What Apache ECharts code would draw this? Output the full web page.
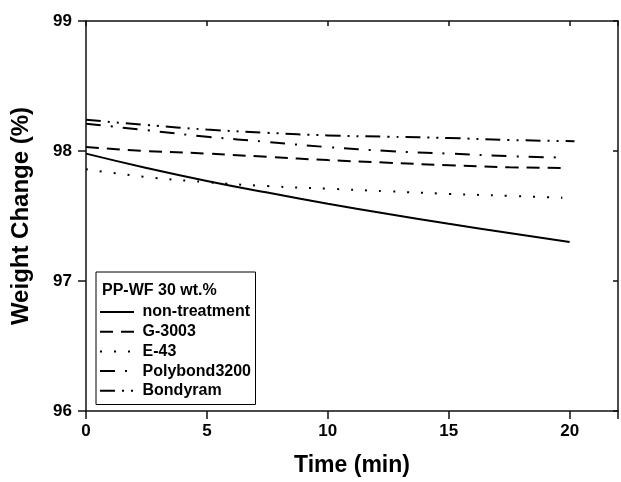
<!DOCTYPE html>
<html><head><meta charset="utf-8">
<script src="https://cdn.jsdelivr.net/npm/echarts@6/dist/echarts.min.js"></script>
<style>html,body{margin:0;padding:0;background:#fff}#c{width:621px;height:482px}</style>
</head><body><div id="c"></div>
<script>
var seriesNames = ['non-treatment', 'G-3003', 'E-43', 'Polybond3200', 'Bondyram'];
var tNon = [0, 2.5, 5, 7.5, 10, 12.5, 15, 17.5, 20];
var vNon = [97.98, 97.87, 97.77, 97.68, 97.595, 97.515, 97.44, 97.37, 97.30];
var tG = [0, 2.5, 5, 7.5, 10, 12.5, 15, 17.5, 19.7];
var vG = [98.03, 98.0, 97.98, 97.955, 97.93, 97.91, 97.89, 97.875, 97.87];
var tE = [0, 2.5, 5, 7.5, 10, 12.5, 15, 17.5, 19.7];
var vE = [97.86, 97.80, 97.76, 97.73, 97.71, 97.69, 97.67, 97.655, 97.64];
var tP = [0, 2.5, 5, 7.5, 10, 12.5, 15, 17.5, 19.7];
var vP = [98.21, 98.16, 98.11, 98.07, 98.03, 98.0, 97.98, 97.96, 97.95];
var tB = [0, 2.5, 5, 7.5, 10, 12.5, 15, 17.5, 20.2];
var vB = [98.24, 98.20, 98.165, 98.14, 98.12, 98.11, 98.10, 98.085, 98.075];
var legendTitle = 'PP-WF 30 wt.%';
var xName = 'Time (min)';
var yName = 'Weight Change (%)';

function pairs(t, v) { return t.map(function (x, i) { return [x, v[i]]; }); }
var FONT = "'Liberation Sans', Arial, sans-serif";
var dashes = ['solid', [13, 8], [2, 12], [15, 10, 2, 10], [15, 7, 2, 7, 2, 7]];
var data = [pairs(tNon, vNon), pairs(tG, vG), pairs(tE, vE), pairs(tP, vP), pairs(tB, vB)];

var chart = echarts.init(document.getElementById('c'));
var axisLineStyle = { color: '#111', width: 1.5 };
chart.setOption({
  animation: false,
  backgroundColor: '#fff',
  grid: { left: 86, right: 2, top: 21, bottom: 67 },
  xAxis: [{
    type: 'value', min: 0, max: 22, interval: 5,
    name: xName, nameLocation: 'middle', nameGap: 43,
    nameTextStyle: { fontFamily: FONT, fontWeight: 'bold', fontSize: 23, color: '#000' },
    axisLine: { show: true, onZero: false, lineStyle: axisLineStyle },
    axisTick: { show: true, inside: false, length: 8, lineStyle: axisLineStyle },
    axisLabel: { fontFamily: FONT, fontWeight: 'bold', fontSize: 17, color: '#000', margin: 12,
      formatter: function (v) { return v % 5 === 0 ? String(v) : ''; } },
    splitLine: { show: false }
  }, {
    type: 'value', min: 0, max: 22, interval: 5, position: 'top',
    axisLine: { show: true, onZero: false, lineStyle: axisLineStyle },
    axisTick: { show: true, inside: true, length: 5, lineStyle: axisLineStyle },
    axisLabel: { show: false }, splitLine: { show: false }
  }],
  yAxis: [{
    type: 'value', min: 96, max: 99, interval: 1,
    name: yName, nameLocation: 'middle', nameGap: 53,
    nameTextStyle: { fontFamily: FONT, fontWeight: 'bold', fontSize: 24, color: '#000' },
    axisLine: { show: true, onZero: false, lineStyle: axisLineStyle },
    axisTick: { show: true, inside: false, length: 8, lineStyle: axisLineStyle },
    axisLabel: { fontFamily: FONT, fontWeight: 'bold', fontSize: 17, color: '#000', margin: 14 },
    splitLine: { show: false }
  }, {
    type: 'value', min: 96, max: 99, interval: 1, position: 'right',
    axisLine: { show: true, onZero: false, lineStyle: axisLineStyle },
    axisTick: { show: true, inside: true, length: 5, lineStyle: axisLineStyle },
    axisLabel: { show: false }, splitLine: { show: false }
  }],
  legend: {
    orient: 'vertical', left: 99, top: 304, z: 10, padding: 0,
    itemWidth: 34, itemHeight: 14, itemGap: 3.7,
    itemStyle: { opacity: 0 },
    textStyle: { fontFamily: FONT, fontWeight: 'bold', fontSize: 16, lineHeight: 16, color: '#000', padding: [0, 0, 0, 3.5] },
    data: seriesNames
  },
  graphic: [{
    type: 'rect', z: 1,
    shape: { x: 96, y: 272, width: 159.5, height: 132.5 },
    style: { fill: '#fff', stroke: '#000', lineWidth: 1 }
  }, {
    type: 'text', z: 11, x: 102, y: 291,
    style: { text: legendTitle, fontFamily: FONT, fontWeight: 'bold', fontSize: 16, fill: '#000', verticalAlign: 'middle' }
  }],
  series: seriesNames.map(function (n, i) {
    return {
      name: n, type: 'line', xAxisIndex: 0, yAxisIndex: 0, z: 3,
      data: data[i], symbol: 'none', smooth: true,
      lineStyle: { color: '#000', width: 2, type: dashes[i] },
      itemStyle: { color: '#000' }
    };
  })
});
</script></body></html>
